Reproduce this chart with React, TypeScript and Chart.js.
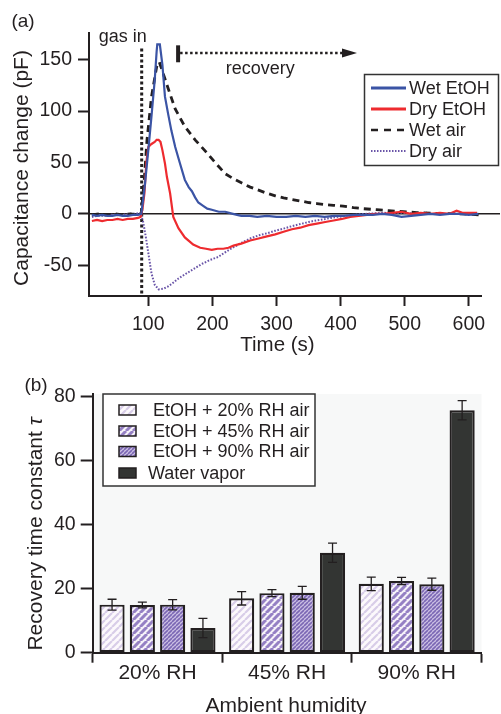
import React, { useEffect, useRef } from "react";
import { Chart, registerables } from "chart.js";

Chart.register(...registerables);

const FONT = "'Liberation Sans', Arial, Helvetica, sans-serif";
const INK = "#231f20";
const BLUE = "#3b54a5";
const RED = "#ee2b2f";
const PURPLE = "#6a55a8";

// ---------- Panel (a): capacitance transients ----------
const wetEtohT = [12, 20, 28, 36, 44, 52, 60, 68, 76, 84, 89, 92, 95, 100, 105, 110, 113, 114, 118, 122, 126, 131, 136, 142, 149, 157, 163, 168, 173, 178, 185, 192, 199, 210, 220, 232, 245, 258, 270, 285, 300, 315, 330, 345, 360, 375, 390, 405, 420, 435, 450, 465, 480, 495, 510, 525, 540, 555, 570, 585, 600, 615];
const wetEtohV = [-1, -2, -1, -2, -2, -1, -2, -2, -1, -1, 0, 14, 30, 62, 95, 130, 158, 165, 165, 145, 114, 97, 81, 65, 50, 33, 26, 22, 16, 11, 8, 5, 4, 2, 2, 0, -2, -2, -3, -2, -3, -3, -2, -3, -2, -3, -2, -2, -1, -1, -1, 0, -1, -3, -2, -1, 0, -1, 0, 0, -1, 0];

const dryEtohT = [12, 20, 28, 36, 44, 52, 60, 68, 76, 84, 88, 91, 94, 97, 100, 105, 110, 113, 116, 119, 122, 126, 129, 134, 139, 147, 157, 170, 181, 190, 199, 208, 217, 225, 233, 245, 259, 272, 285, 298, 311, 324, 337, 350, 363, 376, 389, 402, 415, 428, 441, 454, 467, 480, 495, 510, 525, 540, 555, 570, 581, 590, 600, 613];
const dryEtohV = [-7, -6, -7, -6, -6, -5, -6, -5, -5, -4, -3, 5, 20, 50, 65, 68, 70, 72, 72, 70, 62, 49, 36, 20, -3, -14, -23, -30, -33, -34, -35, -34, -34, -33, -31, -29, -26, -24, -22, -20, -17.5, -15, -13.5, -11, -9.5, -8, -6.5, -5, -3, -2, -1, 0, 0, 1, 2, 0, 1, 0, 1, 0, 3, 1, 1, 1];

const wetAirT = [12, 24, 36, 48, 60, 72, 84, 89, 94, 98, 105, 113, 117, 123, 131, 142, 157, 173, 189, 207, 220, 233, 246, 259, 272, 285, 298, 311, 324, 337, 350, 363, 376, 389, 404, 420, 435, 456, 475, 488, 505, 519, 540, 565, 592, 617];
const wetAirV = [-1, 0, -1, 0, -1, 0, -1, 0, 36, 72, 114, 143, 148, 137, 122, 102, 85, 72, 61, 48, 39, 34, 30, 26, 23, 20, 17.5, 15.5, 14, 12.5, 11, 10, 9, 8.3, 7.5, 6, 5, 4, 3, 2.4, 1.8, 1.1, 0.6, 0.3, 0, -1];

const dryAirT = [12, 20, 30, 40, 50, 60, 70, 80, 88, 92, 96, 101, 105, 110, 116, 123, 130, 137, 147, 157, 170, 183, 196, 209, 221, 233, 246, 259, 272, 285, 298, 311, 324, 337, 350, 363, 376, 389, 402, 415, 428, 441, 454, 467, 480, 495, 510, 535];
const dryAirV = [-3, -2, -2, -1, -1, -1, 0, 0, 1, -8, -22, -42, -58, -69, -73.5, -73, -71, -68, -63, -59, -54, -49, -45, -42, -37, -32.5, -28, -24, -21, -19, -16.5, -14.4, -12, -10, -8, -6.3, -5, -3.5, -2.5, -1.5, -0.5, 0, 0.5, 1, 0.5, 1, 0.5, 1];

const lineLabels = ["Wet EtOH", "Dry EtOH", "Wet air", "Dry air"];
const timeTicks = [100, 200, 300, 400, 500, 600];
const capTicks = [-50, 0, 50, 100, 150];
const gasInTime = 89.7;
const recoveryStart = 146.5;
const recoveryEnd = 425.6;
const recoveryLevel = 156.6;

// ---------- Panel (b): recovery time constants ----------
const humidityLabels = ["20% RH", "45% RH", "90% RH"];
const barLabels = [" EtOH + 20% RH air", " EtOH + 45% RH air", " EtOH + 90% RH air", "Water vapor"];
const etoh20 = [15.0, 17.0, 21.5];
const etoh20Err = [1.7, 2.1, 2.1];
const etoh45 = [14.9, 18.6, 22.4];
const etoh45Err = [0.9, 1.1, 1.1];
const etoh90 = [15.0, 18.7, 21.4];
const etoh90Err = [1.6, 2.0, 1.9];
const waterVapor = [7.7, 31.2, 75.7];
const waterVaporErr = [3.0, 3.0, 3.0];
const tauTicks = [0, 20, 40, 60, 80];

const xy = (t: number[], v: number[]) => t.map((x, i) => ({ x, y: v[i] }));

function stripes(ctx: CanvasRenderingContext2D, bg: string, fg: string, size: number, width: number) {
  const c = document.createElement("canvas");
  c.width = size;
  c.height = size;
  const g = c.getContext("2d")!;
  g.fillStyle = bg;
  g.fillRect(0, 0, size, size);
  g.strokeStyle = fg;
  g.lineWidth = width;
  g.beginPath();
  for (const k of [-1, 0, 1]) {
    g.moveTo(k * size, size);
    g.lineTo(k * size + size, 0);
  }
  g.stroke();
  return ctx.createPattern(c, "repeat")!;
}

function font(size: number, style = "") {
  return `${style} ${size}px ${FONT}`.trim();
}

const panelAPlugin = {
  id: "panelA",
  beforeDatasetsDraw(chart: any) {
    const { ctx, chartArea: a, scales } = chart;
    const x = scales.x, y = scales.y;
    ctx.save();
    const y0 = y.getPixelForValue(0);
    ctx.strokeStyle = INK;
    ctx.lineWidth = 1.5;
    ctx.beginPath();
    ctx.moveTo(a.left, y0);
    ctx.lineTo(a.right + 19, y0);
    ctx.stroke();
    const gx = x.getPixelForValue(gasInTime);
    ctx.lineWidth = 3;
    ctx.setLineDash([3, 2.5]);
    ctx.beginPath();
    ctx.moveTo(gx, y.getPixelForValue(161));
    ctx.lineTo(gx, a.bottom);
    ctx.stroke();
    ctx.restore();
  },
  afterDraw(chart: any) {
    const { ctx, scales } = chart;
    const x = scales.x, y = scales.y;
    ctx.save();
    ctx.fillStyle = INK;
    ctx.strokeStyle = INK;
    const rx = x.getPixelForValue(recoveryStart);
    ctx.lineWidth = 4;
    ctx.beginPath();
    ctx.moveTo(rx, y.getPixelForValue(164));
    ctx.lineTo(rx, y.getPixelForValue(147.5));
    ctx.stroke();
    const ry = y.getPixelForValue(recoveryLevel);
    const ex = x.getPixelForValue(recoveryEnd);
    ctx.lineWidth = 2.5;
    ctx.setLineDash([2.5, 2.5]);
    ctx.beginPath();
    ctx.moveTo(rx + 2, ry);
    ctx.lineTo(ex - 15, ry);
    ctx.stroke();
    ctx.setLineDash([]);
    ctx.beginPath();
    ctx.moveTo(ex, ry);
    ctx.lineTo(ex - 15, ry - 4.5);
    ctx.lineTo(ex - 15, ry + 4.5);
    ctx.closePath();
    ctx.fill();

    ctx.textAlign = "center";
    ctx.textBaseline = "alphabetic";
    ctx.font = font(18);
    ctx.fillText("gas in", x.getPixelForValue(60), y.getPixelForValue(167));
    ctx.fillText("recovery", x.getPixelForValue(274.5), y.getPixelForValue(135.8));
    ctx.font = font(19);
    ctx.textBaseline = "middle";
    ctx.fillText("(a)", 23, 22);
    ctx.textBaseline = "alphabetic";
    ctx.font = font(20.5);
    ctx.fillText("Time (s)", 277.5, 351);
    ctx.save();
    ctx.translate(28, 168);
    ctx.rotate(-Math.PI / 2);
    ctx.font = font(21);
    ctx.fillText("Capacitance change (pF)", 0, 0);
    ctx.restore();

    ctx.fillStyle = "#fff";
    ctx.fillRect(364.5, 74.5, 134, 91);
    ctx.lineWidth = 1.5;
    ctx.strokeStyle = "#333";
    ctx.strokeRect(364.5, 74.5, 134, 91);
    const rows = [88, 109, 130, 151];
    const ds = chart.data.datasets;
    rows.forEach((ry2, i) => {
      const d = ds[i];
      ctx.strokeStyle = d.borderColor;
      ctx.lineWidth = i < 2 ? 3 : i === 2 ? 2.6 : 2;
      ctx.setLineDash(i === 2 ? [7, 6] : i === 3 ? [1.5, 1.5] : []);
      ctx.beginPath();
      ctx.moveTo(371, ry2);
      ctx.lineTo(406, ry2);
      ctx.stroke();
      ctx.setLineDash([]);
      ctx.fillStyle = INK;
      ctx.font = font(18);
      ctx.textAlign = "left";
      ctx.textBaseline = "middle";
      ctx.fillText(d.label, 409, ry2 + 1);
    });
    ctx.restore();
  },
};

const errorSets = [etoh20Err, etoh45Err, etoh90Err, waterVaporErr];

const panelBPlugin = {
  id: "panelB",
  beforeDraw(chart: any) {
    const { ctx, chartArea: a } = chart;
    ctx.save();
    ctx.fillStyle = "#f7f8f8";
    ctx.fillRect(a.left, a.top, a.right - a.left, a.bottom - a.top);
    ctx.restore();
  },
  afterDatasetsDraw(chart: any) {
    const { ctx, scales } = chart;
    const y = scales.y;
    ctx.save();
    ctx.strokeStyle = INK;
    ctx.lineWidth = 1.3;
    chart.data.datasets.forEach((d: any, i: number) => {
      const meta = chart.getDatasetMeta(i);
      meta.data.forEach((bar: any, j: number) => {
        const v = d.data[j];
        const e = errorSets[i][j];
        const top = y.getPixelForValue(v + e);
        const bot = y.getPixelForValue(v - e);
        ctx.beginPath();
        ctx.moveTo(bar.x, top);
        ctx.lineTo(bar.x, bot);
        ctx.moveTo(bar.x - 4.5, top);
        ctx.lineTo(bar.x + 4.5, top);
        ctx.moveTo(bar.x - 4.5, bot);
        ctx.lineTo(bar.x + 4.5, bot);
        ctx.stroke();
      });
    });
    ctx.restore();
  },
  afterDraw(chart: any) {
    const { ctx } = chart;
    ctx.save();
    ctx.fillStyle = INK;
    ctx.textAlign = "center";
    ctx.textBaseline = "middle";
    ctx.font = font(19);
    ctx.fillText("(b)", 36, 32);
    ctx.textBaseline = "alphabetic";
    ctx.font = font(21);
    ctx.fillText("Ambient humidity", 286, 357.7);
    const main = "Recovery time constant ";
    ctx.font = font(21);
    const w1 = ctx.measureText(main).width;
    ctx.font = font(21, "italic");
    const w2 = ctx.measureText("τ").width;
    ctx.save();
    ctx.translate(42, 180);
    ctx.rotate(-Math.PI / 2);
    ctx.textAlign = "left";
    const start = -(w1 + w2) / 2;
    ctx.font = font(21);
    ctx.fillText(main, start, 0);
    ctx.font = font(21, "italic");
    ctx.fillText("τ", start + w1, 0);
    ctx.restore();

    ctx.fillStyle = "#fff";
    ctx.fillRect(103, 40, 212, 92);
    ctx.lineWidth = 1.5;
    ctx.strokeStyle = "#333";
    ctx.strokeRect(103, 40, 212, 92);
    const rows = [56, 77, 97.5, 119];
    chart.data.datasets.forEach((d: any, i: number) => {
      const ry = rows[i];
      ctx.fillStyle = d.backgroundColor;
      ctx.fillRect(119, ry - 5, 17, 10);
      ctx.strokeStyle = INK;
      ctx.lineWidth = 1.5;
      ctx.strokeRect(119, ry - 5, 17, 10);
      ctx.fillStyle = INK;
      ctx.font = font(18);
      ctx.textAlign = "left";
      ctx.textBaseline = "middle";
      ctx.fillText(d.label, 148, ry + 1);
    });
    ctx.restore();
  },
};

export default function App() {
  const refA = useRef<HTMLCanvasElement>(null);
  const refB = useRef<HTMLCanvasElement>(null);

  useEffect(() => {
    const tickFont = { family: FONT, size: 19.5 };
    const axisGrid = (len: number) => ({
      drawOnChartArea: false,
      drawTicks: true,
      tickLength: len,
      tickWidth: 2,
      tickColor: INK,
    });
    const axisBorder = { color: INK, width: 2 };

    const chartA = new Chart(refA.current!, {
      type: "line",
      data: {
        datasets: [
          { label: lineLabels[0], data: xy(wetEtohT, wetEtohV), borderColor: BLUE, borderWidth: 2.2 },
          { label: lineLabels[1], data: xy(dryEtohT, dryEtohV), borderColor: RED, borderWidth: 2.2 },
          { label: lineLabels[2], data: xy(wetAirT, wetAirV), borderColor: INK, borderWidth: 2.8, borderDash: [7, 5] },
          { label: lineLabels[3], data: xy(dryAirT, dryAirV), borderColor: PURPLE, borderWidth: 2, borderDash: [1.6, 1.6] },
        ],
      },
      options: {
        responsive: false,
        animation: false,
        layout: { padding: { top: 33, right: 20, left: 0, bottom: 0 } },
        elements: { point: { radius: 0 }, line: { tension: 0, borderCapStyle: "butt" } },
        plugins: { legend: { display: false }, tooltip: { enabled: false } },
        scales: {
          x: {
            type: "linear",
            min: 7.5,
            max: 619,
            afterFit: (s: any) => { s.height = 64; },
            afterBuildTicks: (s: any) => { s.ticks = timeTicks.map((value) => ({ value })); },
            ticks: { font: tickFont, color: INK, padding: 7, maxRotation: 0, autoSkip: false },
            grid: axisGrid(10),
            border: axisBorder,
          },
          y: {
            type: "linear",
            min: -80,
            max: 176,
            afterFit: (s: any) => { s.width = 89; },
            afterBuildTicks: (s: any) => { s.ticks = capTicks.map((value) => ({ value })); },
            ticks: { font: tickFont, color: INK, padding: 6 },
            grid: axisGrid(11),
            border: axisBorder,
          },
        },
      } as any,
      plugins: [panelAPlugin],
    });

    const ctxB = refB.current!.getContext("2d")!;
    const fills = [
      stripes(ctxB, "#fcf9fc", "#d8cde8", 7, 2.2),
      stripes(ctxB, "#f6f2f9", "#9580c4", 7, 3.0),
      stripes(ctxB, "#cbbfe3", "#7b67b4", 4, 1.6),
      "#333533",
    ];
    const values = [etoh20, etoh45, etoh90, waterVapor];

    const chartB = new Chart(refB.current!, {
      type: "bar",
      data: {
        labels: humidityLabels,
        datasets: values.map((v, i) => ({
          label: barLabels[i],
          data: v,
          backgroundColor: fills[i],
          borderColor: INK,
          borderWidth: 2.2,
          borderSkipped: false,
          categoryPercentage: 0.935,
          barPercentage: 0.83,
        })),
      },
      options: {
        responsive: false,
        animation: false,
        layout: { padding: { top: 40, right: 19.5, left: 0, bottom: 0 } },
        plugins: { legend: { display: false }, tooltip: { enabled: false } },
        scales: {
          x: {
            afterFit: (s: any) => { s.height = 61.3; },
            ticks: { font: { family: FONT, size: 21 }, color: INK, padding: -2, maxRotation: 0 },
            grid: { ...axisGrid(10), offset: true },
            border: axisBorder,
          },
          y: {
            type: "linear",
            min: 0,
            max: 80.8,
            afterFit: (s: any) => { s.width = 92.7; },
            afterBuildTicks: (s: any) => { s.ticks = tauTicks.map((value) => ({ value })); },
            ticks: { font: tickFont, color: INK, padding: 5 },
            grid: axisGrid(12),
            border: axisBorder,
          },
        },
      } as any,
      plugins: [panelBPlugin],
    });

    return () => {
      chartA.destroy();
      chartB.destroy();
    };
  }, []);

  return (
    <div style={{ position: "absolute", left: 0, top: 0, width: 501, height: 714, overflow: "hidden", background: "#fff" }}>
      <canvas ref={refA} width={501} height={360} style={{ position: "absolute", left: 0, top: 0, display: "block" }} />
      <canvas ref={refB} width={501} height={360} style={{ position: "absolute", left: 0, top: 354, display: "block" }} />
    </div>
  );
}
